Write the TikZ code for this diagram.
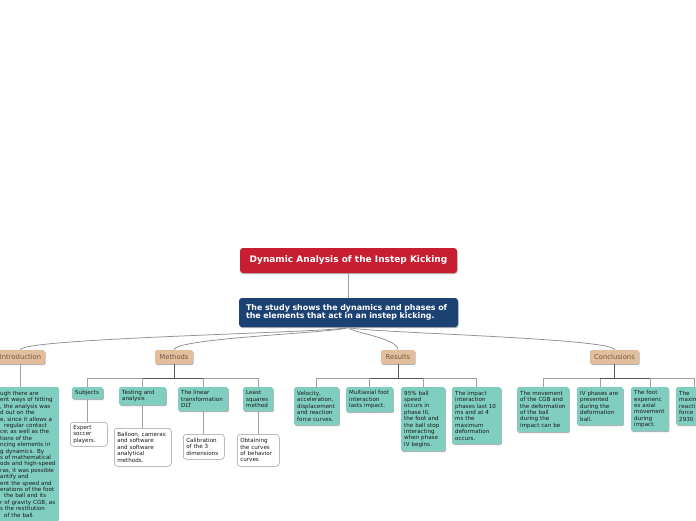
\documentclass[tikz,border=0pt]{standalone}
\usepackage{fontspec}
\setmainfont{DejaVu Sans}
\usetikzlibrary{shadows,calc}
\definecolor{rootred}{HTML}{C81E32}
\definecolor{sumblue}{HTML}{1C4273}
\definecolor{tealc}{HTML}{7FCEBF}
\definecolor{tanc}{HTML}{E3BE9C}
\definecolor{tantext}{HTML}{6E5844}
\definecolor{lineg}{HTML}{A0A0A0}
\definecolor{darkg}{HTML}{555555}
\begin{document}
\begin{tikzpicture}[x=1pt,y=-1pt,
  conn/.style={draw=lineg, line width=0.6pt},
  curve/.style={draw=lineg!90!black, line width=0.75pt},
  dconn/.style={draw=darkg, line width=0.9pt},
  shad/.style={drop shadow={shadow xshift=0.6pt, shadow yshift=-1pt, fill=black!30, opacity=1}},
  txt/.style={font=\fontsize{5.6}{6.4}\selectfont, text=black!90, align=left, anchor=north west, inner xsep=3pt, inner ysep=2pt},
  tealbox/.style={txt, fill=tealc, rounded corners=1.5pt, shad},
  leafbox/.style={txt, fill=white, draw=black!40, line width=0.5pt, rounded corners=3pt},
  topicbox/.style={fill=tanc, text=tantext, font=\fontsize{6.8}{8}\selectfont, minimum height=14pt, inner xsep=3pt, inner ysep=0pt, rounded corners=1.5pt, shad},
]
\fill[white] (0,0) rectangle (696,520);
\useasboundingbox (0,0) rectangle (696,520);

% main nodes
\node[fill=rootred, text=white, font=\bfseries\fontsize{9}{11}\selectfont, minimum width=217pt, minimum height=25pt, rounded corners=3pt, shad] (root) at (348.5,260.5) {Dynamic Analysis of the Instep Kicking};
\node[fill=sumblue, text=white, font=\bfseries\fontsize{7.9}{8.6}\selectfont, text width=205pt, align=left, minimum height=29pt, inner xsep=7pt, rounded corners=3pt, shad] (sum) at (348.5,312.5) {The study shows the dynamics and phases of\\the elements that act in an instep kicking.};

% topics
\node[topicbox, minimum width=49pt] (intro) at (20.5,357) {Introduction};
\node[topicbox, minimum width=38pt] (meth) at (174,357) {Methods};
\node[topicbox, minimum width=34pt] (res) at (398,357) {Results};
\node[topicbox, minimum width=49pt] (conc) at (614.5,357) {Conclusions};

\draw[conn] (root.south) -- (sum.north);
\foreach \t in {intro,meth,res,conc}
  \draw[curve] (sum.south) .. controls +(0,5) and +(0,-12) .. (\t.north);

% introduction
\node[txt, fill=tealc, rounded corners=1.5pt, text width=57pt, inner xsep=2pt, inner ysep=4pt] (i1) at (-2,387) {ugh there are\\ent ways of hitting\\, the analysis was\\d out on the\\e, since it allows a\\\hspace*{4pt}regular contact\\ce; as well as the\\tions of the\\ncing elements in\\g dynamics. By\\s of mathematical\\ods and high-speed\\ras, it was possible\\antify and\\ent the speed and\\erations of the foot\\\hspace*{4pt}the ball and its\\r of gravity CGB, as\\s the restitution\\\hspace*{4pt}of the ball.};
\draw[conn] (intro.south) -- (intro.south |- i1.north);

% methods
\node[tealbox, text width=25pt, minimum height=12pt] (m1) at (72,387) {Subjects};
\node[tealbox, text width=41pt, minimum height=18pt] (m2) at (119,387) {Testing and\\analysis};
\node[tealbox, text width=44pt, minimum height=24pt] (m3) at (178,387) {The linear\\transformation\\DLT};
\node[tealbox, text width=24pt, minimum height=24pt] (m4) at (243,387) {Least\\squares\\method};
\node[leafbox, text width=31pt, minimum height=24pt] (l1) at (70,422) {Expert\\soccer\\players.};
\node[leafbox, text width=51pt, minimum height=38pt] (l2) at (114,428) {Balloon, cameras\\and software\\and software\\analytical\\methods.};
\node[leafbox, text width=35pt, minimum height=25pt] (l3) at (183,434) {Calibration\\of the 3\\dimensions};
\node[leafbox, text width=36pt, minimum height=32pt] (l4) at (237,434) {Obtaining\\the curves\\of behavior\\curves};
\coordinate (bar) at (0,378);
\draw[conn] (m1.north) -- (m1.north |- bar) -- (m4.north |- bar) -- (m4.north);
\draw[conn] (m2.north) -- (m2.north |- bar);
\draw[conn] (m3.north) -- (m3.north |- bar);
\draw[dconn] (m2.north |- bar) -- (m3.north |- bar);
\draw[dconn] (meth.south) -- (meth.south |- bar);
\draw[conn] (m1.south) -- (m1.south |- l1.north);
\draw[conn] (m2.south) -- (m2.south |- l2.north);
\draw[conn] (m3.south) -- (m3.south |- l3.north);
\draw[conn] (m4.south) -- (m4.south |- l4.north);

% results
\node[tealbox, text width=39pt, minimum height=38pt] (r1) at (294,387) {Velocity,\\acceleration,\\displacement\\and reaction\\force curves.};
\node[tealbox, text width=41pt, minimum height=25pt] (r2) at (346,387) {Multiaxial foot\\interaction\\lasts impact.};
\node[tealbox, text width=38pt, minimum height=64pt] (r3) at (401,387) {95\% ball\\speed\\occurs in\\phase III,\\the foot and\\the ball stop\\interacting\\when phase\\IV begins.};
\node[tealbox, text width=43pt, minimum height=57pt] (r4) at (452,387) {The impact\\interaction\\phases last 10\\ms and at 4\\ms the\\maximum\\deformation\\occurs.};
\draw[conn] (r1.north) -- (r1.north |- bar) -- (r4.north |- bar) -- (r4.north);
\draw[conn] (r2.north) -- (r2.north |- bar);
\draw[conn] (r3.north) -- (r3.north |- bar);
\draw[dconn] (r2.north |- bar) -- (r3.north |- bar);
\draw[dconn] (res.south) -- (res.south |- bar);

% conclusions
\node[tealbox, text width=46pt, minimum height=45pt] (c1) at (517,387) {The movement\\of the CGB and\\the deformation\\of the ball\\during the\\impact can be};
\node[tealbox, text width=40pt, minimum height=38pt] (c2) at (577,387) {IV phases are\\presented\\during the\\deformation\\ball.};
\node[tealbox, text width=31.5pt, minimum height=44pt] (c3) at (631,387) {The foot\\experienc\\es axial\\movement\\during\\impact.};
\node[tealbox, text width=30pt, minimum height=38pt] (c4) at (676,387) {The\\maxim\\reacti\\force\\2930};
\draw[conn] (c1.north) -- (c1.north |- bar) -- (c4.north |- bar) -- (c4.north);
\draw[conn] (c2.north) -- (c2.north |- bar);
\draw[conn] (c3.north) -- (c3.north |- bar);
\draw[dconn] (c2.north |- bar) -- (c3.north |- bar);
\draw[dconn] (conc.south) -- (conc.south |- bar);
\end{tikzpicture}
\end{document}
